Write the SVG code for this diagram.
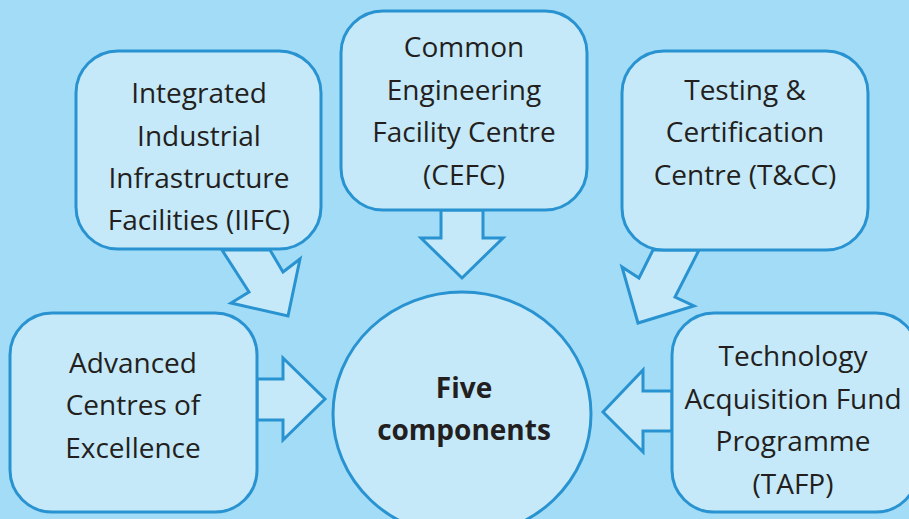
<svg xmlns="http://www.w3.org/2000/svg" width="909" height="519" viewBox="0 0 909 519">
<style>
.box{fill:#c6e9f9;stroke:#2993d1;stroke-width:3}
.arr{fill:#c6e9f9;stroke:#2993d1;stroke-width:3;stroke-linejoin:miter}
.t{font-family:"Open Sans","Noto Sans",sans-serif;font-size:28px;fill:#231f20;text-anchor:middle}
.b{font-weight:bold}
</style>
<rect width="909" height="519" fill="#a3dcf6"/>
<g id="connectors">
<polygon class="arr" points="222,250 249,292 231,303 288,316 300,259 283,272 270,250"/>
<polygon class="arr" points="441,210 441,238 421,238 462,278 503,238 483,238 483,210"/>
<polygon class="arr" points="653,250 639,278 622,267 638,323 694,306 675,297 699,250"/>
<polygon class="arr" points="257,379 283,379 283,358 325,399 283,440 283,420 257,420"/>
<polygon class="arr" points="672,391 643,391 643,370 603,412 643,452 643,431 672,431"/>
</g>
<g id="iifc">
<rect class="box" x="76" y="51" width="245" height="198" rx="42"/>
<text class="t" x="199" y="103">Integrated</text>
<text class="t" x="199" y="146">Industrial</text>
<text class="t" x="199" y="188">Infrastructure</text>
<text class="t" x="199" y="230">Facilities (IIFC)</text>
</g>
<g id="cefc">
<rect class="box" x="341" y="11" width="246" height="199" rx="42"/>
<text class="t" x="464" y="57">Common</text>
<text class="t" x="464" y="100">Engineering</text>
<text class="t" x="464" y="142">Facility Centre</text>
<text class="t" x="464" y="185">(CEFC)</text>
</g>
<g id="tcc">
<rect class="box" x="622" y="51" width="246" height="199" rx="42"/>
<text class="t" x="745" y="100">Testing &amp;</text>
<text class="t" x="745" y="142">Certification</text>
<text class="t" x="745" y="185">Centre (T&amp;CC)</text>
</g>
<g id="ace">
<rect class="box" x="10" y="313" width="247" height="199" rx="42"/>
<text class="t" x="133" y="373">Advanced</text>
<text class="t" x="133" y="415">Centres of</text>
<text class="t" x="133" y="458">Excellence</text>
</g>
<g id="tafp">
<rect class="box" x="672" y="313" width="246" height="199" rx="42"/>
<text class="t" x="793" y="366">Technology</text>
<text class="t" x="793" y="409">Acquisition Fund</text>
<text class="t" x="793" y="451">Programme</text>
<text class="t" x="793" y="494">(TAFP)</text>
</g>
<g id="five">
<ellipse class="box" cx="462" cy="414" rx="129" ry="122"/>
<text class="t b" x="464" y="398">Five</text>
<text class="t b" x="464" y="440">components</text>
</g>
</svg>
